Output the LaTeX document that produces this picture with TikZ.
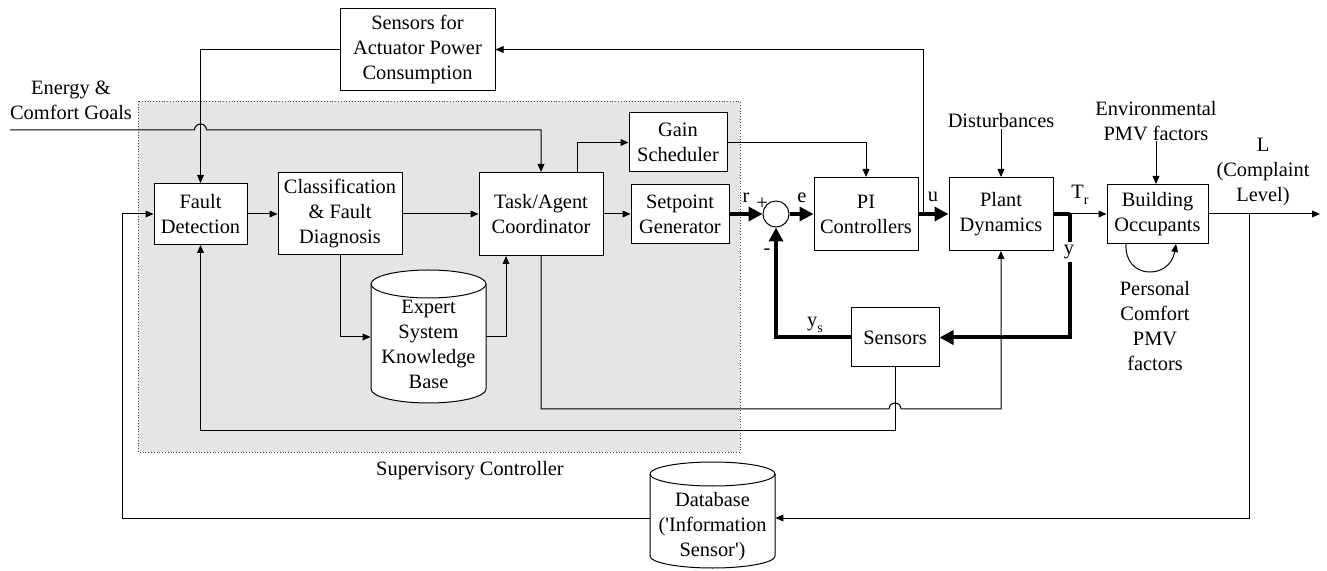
\documentclass[tikz,border=0pt]{standalone}
\usepackage{fontspec}
\setmainfont{Liberation Serif}
\newfontfamily\tnr{Liberation Serif}
\usetikzlibrary{arrows.meta}
\begin{document}
\begin{tikzpicture}[x=0.5pt,y=-0.5pt,
  every node/.style={font=\tnr\fontsize{10.2pt}{12.5pt}\selectfont},
  blk/.style={draw, fill=white, line width=0.5pt, align=center, inner sep=0pt},
  lbl/.style={align=center, inner sep=0pt},
  ln/.style={line width=0.5pt},
  arr/.style={ln, -{Triangle[length=4pt,width=3.4pt]}},
  thk/.style={line width=2pt},
  tarr/.style={thk, -{Triangle[length=7pt,width=7pt]}},
]
\useasboundingbox (0,0) rectangle (1327,571);
% supervisory region
\fill[gray!20] (138,101) rectangle (740,452);
\draw[densely dotted, line width=0.4pt, black!70] (138,101) rectangle (740,452);
\node[lbl] (svl) at (470,471) {Supervisory Controller};

% cylinders
\path[blk] (371,284) -- (371,389) arc[start angle=180,end angle=0,x radius=57.5,y radius=14] -- (486,284) arc[start angle=0,end angle=-180,x radius=57.5,y radius=14] -- cycle;
\draw[ln] (371,284) arc[start angle=180,end angle=0,x radius=57.5,y radius=14];
\node[lbl, minimum width=57.5pt] (es) at (428.5,344) {Expert\\System\\Knowledge\\Base};

\path[blk] (650,474) -- (650,556) arc[start angle=180,end angle=0,x radius=62.5,y radius=12] -- (775,474) arc[start angle=0,end angle=-180,x radius=62.5,y radius=12] -- cycle;
\draw[ln] (650,474) arc[start angle=180,end angle=0,x radius=62.5,y radius=12];
\node[lbl, minimum width=62.5pt] (db) at (712.5,527) {Database\\(\char39 Information\\Sensor\char39)};

% blocks
\node[blk, minimum width=77.5pt, minimum height=41pt] (sap) at (417.5,49.5) {Sensors for\\Actuator Power\\Consumption};
\node[blk, minimum width=46.5pt, minimum height=30.5pt] (fd) at (200.5,214) {Fault\\Detection};
\node[blk, minimum width=62pt, minimum height=41pt] (cfd) at (340,214) {Classification\\\& Fault\\Diagnosis};
\node[blk, minimum width=62pt, minimum height=41.5pt] (tac) at (541,214) {Task/Agent\\Coordinator};
\node[blk, minimum width=49pt, minimum height=29.5pt] (gs) at (678,142.5) {Gain\\Scheduler};
\node[blk, minimum width=49pt, minimum height=29.5pt] (sg) at (680,214) {Setpoint\\Generator};
\node[draw, circle, fill=white, line width=0.5pt, minimum size=13pt, inner sep=0pt] (sum) at (776,214) {};
\node[blk, minimum width=52pt, minimum height=36.5pt] (pi) at (866,214) {PI\\Controllers};
\node[blk, minimum width=52pt, minimum height=36.5pt] (pd) at (1001,214) {Plant\\Dynamics};
\node[blk, minimum width=50.5pt, minimum height=29.5pt] (bo) at (1157.5,214) {Building\\Occupants};
\node[blk, minimum width=44pt, minimum height=29.5pt] (sens) at (895,337.5) {Sensors};

% text labels
\node[lbl] (ecg) at (71,100) {Energy \&\\Comfort Goals};
\node[lbl] (dist) at (1001,121) {Disturbances};
\node[lbl] (env) at (1156,121) {Environmental\\PMV factors};
\node[lbl] (L) at (1263,172) {L\\(Complaint\\Level)};
\node[lbl] (pers) at (1155,326) {Personal\\Comfort\\PMV\\factors};
\node[lbl] (rl) at (746,198) {r};
\node[lbl] (pl) at (762,204) {+};
\node[lbl] (el) at (802,198) {e};
\node[lbl] (ml) at (767,252) {-};
\node[lbl] (ul) at (933,197) {u};
\node[lbl] (trl) at (1080,195) {T\raisebox{-3pt}{\fontsize{7pt}{8pt}\selectfont r}};
\node[lbl] (ysl) at (815,325) {y\raisebox{-3pt}{\fontsize{7pt}{8pt}\selectfont s}};

% coordinates
\coordinate (eg) at (10,130);
\coordinate (uj) at ([xshift=2.5pt]pi.east);
\coordinate (yj) at ([xshift=8pt]pd.east);
\coordinate (out) at (1320,214);
\coordinate (lj) at (1249,214);
\coordinate (hb) at (895,409);

% connectors
\draw[arr] (sap.west) -| (fd.north);
\draw[arr] (eg) -- (194.5,130) arc[start angle=180,end angle=360,radius=6] -- (tac.north |- eg) -- (tac.north);
\draw[arr] (fd.east) -- (cfd.west |- fd.east);
\draw[arr] (cfd.east) -- (tac.west |- cfd.east);
\draw[arr] (tac.east) -- (sg.west |- tac.east);
\draw[arr] ([xshift=18pt]tac.north) |- (gs.west);
\draw[arr] (gs.east) -| (pi.north);
\draw[arr] (cfd.south) |- ([yshift=3.5pt]es.west);
\draw[arr] ([yshift=3.5pt]es.east) -| ([xshift=-17.5pt]tac.south);
\draw[tarr] (sg.east) -- (sum.west);
\draw[tarr] (sum.east) -- (pi.west);
\draw[tarr] (pi.east) -- (pd.west);
\draw[arr] (uj) |- (sap.east);
\draw[thk] (pd.east) -- (yj);
\draw[arr] (yj) -- (bo.west);
\draw[tarr] (yj) |- (sens.east);
\draw[tarr] (sens.west) -| (sum.south);
\draw[arr] (tac.south) |- ([xshift=-3pt]hb) arc[start angle=180,end angle=360,radius=6] -| (pd.south);
\draw[arr] (sens.south) -- ++(0,63) -| (fd.south);
\draw[arr] (dist.south) -- (pd.north);
\draw[arr] (env.south) -- (env.south |- bo.north);
\draw[arr] (bo.east) -- (out);
\draw[arr] (lj) |- ([yshift=4.5pt]db.east);
\draw[arr] ([yshift=4.5pt]db.west) -| ([xshift=-15.5pt]fd.west) -- (fd.west);
\draw[arr] ([xshift=-15.75pt]bo.south) .. controls +(-2,36) and +(-6,36) .. ([xshift=9.25pt]bo.south);
\node[lbl, fill=white, inner sep=1.5pt] (ylab) at (1069,252) {y};
\end{tikzpicture}
\end{document}
